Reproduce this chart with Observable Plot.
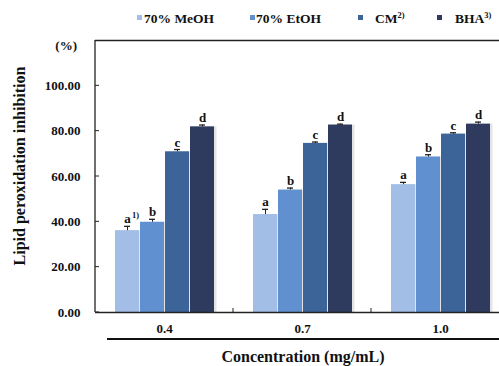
<!DOCTYPE html>
<html>
<head>
<meta charset="utf-8">
<script src="https://cdn.jsdelivr.net/npm/d3@7"></script>
<script src="https://cdn.jsdelivr.net/npm/@observablehq/plot@0.6"></script>
<style>
  html, body { margin: 0; padding: 0; background: #fff; }
  #wrap { position: relative; width: 499px; height: 366px; overflow: hidden; color: #111; }
  #wrap, #wrap div, #wrap svg, #wrap svg text { font-family: "Liberation Serif", "Times New Roman", serif !important; font-weight: bold; }
  #wrap svg { position: absolute; left: 0; top: 0; max-width: none !important; width: 514px; height: 366px; }
  .lg { position: absolute; top: 10px; font-size: 13.5px; line-height: 18px; white-space: nowrap; }
  .sw { position: absolute; top: 15px; width: 5px; height: 5px; }
  .lg sup { font-size: 8.5px; vertical-align: 5px; line-height: 0; }
  #ytitle { position: absolute; left: 20px; top: 166px; transform: translate(-50%, -50%) rotate(-90deg); font-size: 16px; white-space: nowrap; }
  #yunit { position: absolute; right: 422px; top: 38px; font-size: 13px; }
  #xtitle { position: absolute; left: 303px; top: 348px; transform: translateX(-50%); font-size: 16px; white-space: nowrap; }
  #xline { position: absolute; left: 107px; top: 338px; width: 400px; height: 0; border-top: 2px solid #111; }
</style>
</head>
<body>
<div id="wrap">
  <div id="ytitle">Lipid peroxidation inhibition</div>
  <div id="yunit">(%)</div>
  <div id="xline"></div>
  <div id="xtitle">Concentration (mg/mL)</div>
</div>
<script>
// ---- data ----
const concentrations = ["0.4", "0.7", "1.0"];
const seriesNames = ["70% MeOH", "70% EtOH", "CM", "BHA"];
const legendSup = ["", "", "2)", "3)"];
const colors = ["#a2bee6", "#6090d0", "#3c6498", "#2e3b5f"];
const meohValues = [36.1, 43.2, 56.4];
const etohValues = [39.8, 54.0, 68.6];
const cmValues = [70.9, 74.6, 78.7];
const bhaValues = [81.9, 82.7, 83.1];
const meohErr = [1.9, 2.3, 1.0];
const etohErr = [1.3, 0.9, 1.0];
const cmErr = [1.0, 0.6, 0.6];
const bhaErr = [0.8, 0.4, 0.9];
const letters = ["a", "b", "c", "d"];
const footnote = { conc: "0.4", series: "70% MeOH", text: "1)" };
const yTicks = [0, 20, 40, 60, 80, 100];

// ---- table ----
const valueSets = [meohValues, etohValues, cmValues, bhaValues];
const errSets = [meohErr, etohErr, cmErr, bhaErr];
const rows = [];
concentrations.forEach((c, ci) => {
  seriesNames.forEach((s, si) => {
    const v = valueSets[si][ci], e = errSets[si][ci];
    rows.push({ conc: c, series: s, value: v, top: v + e, letter: letters[si] });
  });
});
const noteRows = rows.filter(d => d.conc === footnote.conc && d.series === footnote.series)
  .map(d => ({ ...d, text: footnote.text }));

const font = "Liberation Serif, Times New Roman, serif";
const ink = "#222";

const plot = Plot.plot({
  width: 514,
  height: 366,
  marginLeft: 95,
  marginRight: 5,
  marginTop: 40,
  marginBottom: 54,
  style: { fontFamily: font, fontWeight: "bold", fontSize: "13px", color: "#111", background: "transparent", overflow: "visible" },
  fx: { domain: concentrations, paddingInner: 0, paddingOuter: 0, label: null },
  x: { domain: seriesNames, paddingInner: 0.05, paddingOuter: 0.78, axis: null },
  y: { domain: [0, 120], label: null },
  color: { domain: seriesNames, range: colors },
  marks: [
    Plot.barY(rows, { fx: "conc", x: "series", y: "value", fill: "#e4e4e4", dx: 2.5 }),
    Plot.barY(rows, { fx: "conc", x: "series", y: "value", fill: "series" }),
    Plot.ruleX(rows, { fx: "conc", x: "series", y1: "value", y2: "top", stroke: ink, strokeWidth: 1 }),
    Plot.tickY(rows, { fx: "conc", x: "series", y: "top", stroke: ink, strokeWidth: 1.3, insetLeft: 9, insetRight: 9 }),
    Plot.text(rows, { fx: "conc", x: "series", y: "top", text: "letter", lineAnchor: "bottom", dy: -3, fontSize: 13, fill: "#111" }),
    Plot.text(noteRows, { fx: "conc", x: "series", y: "top", text: "text", lineAnchor: "bottom", dy: -8, dx: 8, fontSize: 8.5, fill: "#111" }),
    Plot.ruleY([0], { stroke: ink, strokeWidth: 1.3 }),
    Plot.ruleY([120], { stroke: ink, strokeWidth: 1.3 }),
    Plot.axisY({ ticks: yTicks, tickFormat: d3.format(".2f"), tickSize: 0, tickPadding: 15, fontSize: 13, label: null }),
    Plot.axisFx({ anchor: "bottom", tickSize: 0, tickPadding: 11, fontSize: 13, label: null })
  ]
});

// ---- axis lines & inner ticks drawn from the plot's own scales ----
const ys = plot.scale("y");
const fxs = plot.scale("fx");
const svgEl = plot.tagName.toLowerCase() === "svg" ? plot : plot.querySelector("svg");
svgEl.setAttribute("font-family", font);
const svg = d3.select(svgEl);
const x0 = fxs.apply(concentrations[0]);
const g = svg.append("g").attr("stroke", ink);
g.append("line").attr("x1", x0).attr("x2", x0).attr("y1", ys.apply(0)).attr("y2", ys.apply(120)).attr("stroke-width", 1.3);
g.selectAll("line.yt").data(yTicks).join("line").attr("class", "yt")
  .attr("x1", x0).attr("x2", x0 + 4).attr("y1", d => ys.apply(d)).attr("y2", d => ys.apply(d)).attr("stroke-width", 1);
g.selectAll("line.xt").data(concentrations.slice(1)).join("line").attr("class", "xt")
  .attr("x1", d => fxs.apply(d)).attr("x2", d => fxs.apply(d))
  .attr("y1", ys.apply(0)).attr("y2", ys.apply(0) - 4).attr("stroke-width", 1);

const wrap = document.getElementById("wrap");
wrap.insertBefore(plot, wrap.firstChild);

// ---- legend ----
const swatchX = [137, 250, 358, 437];
const textX = [144, 256, 375, 455];
seriesNames.forEach((s, i) => {
  const sw = document.createElement("div");
  sw.className = "sw";
  sw.style.left = swatchX[i] + "px";
  sw.style.background = colors[i];
  wrap.appendChild(sw);
  const t = document.createElement("div");
  t.className = "lg";
  t.style.left = textX[i] + "px";
  t.innerHTML = s + (legendSup[i] ? "<sup>" + legendSup[i] + "</sup>" : "");
  wrap.appendChild(t);
});
</script>
</body>
</html>
